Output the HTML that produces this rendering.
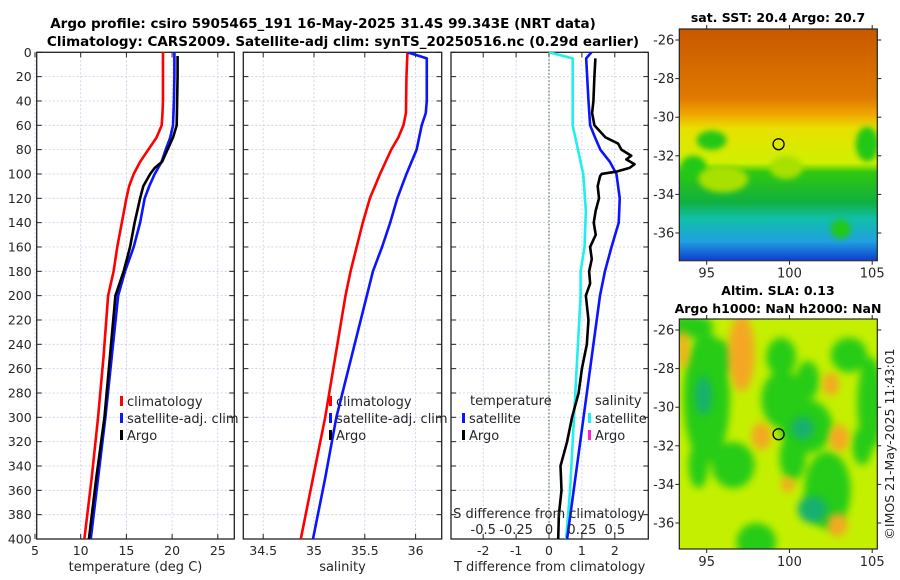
<!DOCTYPE html>
<html><head><meta charset="utf-8"><style>
body{margin:0;background:#fff;}
svg{display:block;font-family:"DejaVu Sans","Liberation Sans",sans-serif;}
</style></head><body>
<svg id="fig" width="900" height="580" viewBox="0 0 900 580">
<defs>
<filter id="blur6" x="-50%" y="-50%" width="200%" height="200%"><feGaussianBlur stdDeviation="4"/></filter>
<filter id="blur3" x="-50%" y="-50%" width="200%" height="200%"><feGaussianBlur stdDeviation="3"/></filter>
<linearGradient id="sstgrad" x1="0" y1="0" x2="0" y2="1">
<stop offset="0" stop-color="#c85800"/><stop offset="0.3" stop-color="#e07a00"/>
<stop offset="0.37" stop-color="#f0a800"/><stop offset="0.43" stop-color="#e8e000"/>
<stop offset="0.58" stop-color="#d0f000"/><stop offset="0.62" stop-color="#30c810"/>
<stop offset="0.75" stop-color="#10b040"/><stop offset="0.82" stop-color="#10c0a8"/>
<stop offset="0.92" stop-color="#20a0e0"/><stop offset="1" stop-color="#1040d0"/>
</linearGradient>
<clipPath id="clipm1"><rect x="679" y="29" width="198" height="231"/></clipPath>
<clipPath id="clipm2"><rect x="679" y="319" width="198" height="230"/></clipPath>
<clipPath id="clipp1"><rect x="37" y="52" width="197" height="487"/></clipPath>
<clipPath id="clipp2"><rect x="243" y="52" width="198" height="487"/></clipPath>
<clipPath id="clipp3"><rect x="451" y="52" width="197" height="487"/></clipPath>
</defs>
<text x="323" y="28" text-anchor="middle" font-size="13.5" font-weight="bold">Argo profile: csiro 5905465_191 16-May-2025 31.4S 99.343E (NRT data)</text>
<text x="343" y="46" text-anchor="middle" font-size="13.5" font-weight="bold">Climatology: CARS2009. Satellite-adj clim: synTS_20250516.nc (0.29d earlier)</text>
<g id="g1"></g>
<g id="g2"></g>
<g id="g3"></g>
<g id="m1"></g>
<g id="m2"></g>
<text x="778" y="22" text-anchor="middle" font-size="12.5" font-weight="bold">sat. SST: 20.4 Argo: 20.7</text>
<text x="778" y="295" text-anchor="middle" font-size="12.5" font-weight="bold">Altim. SLA: 0.13</text>
<text x="778" y="313" text-anchor="middle" font-size="12.5" font-weight="bold">Argo h1000: NaN h2000: NaN</text>
<text transform="translate(894,444) rotate(-90)" text-anchor="middle" font-size="12.5" fill="#222">©IMOS 21-May-2025 11:43:01</text>
</svg>
<script>
// ---- data ----
const depthTicks = [0,20,40,60,80,100,120,140,160,180,200,220,240,260,280,300,320,340,360,380,400];
const tempTicks = [5,10,15,20,25];
const salTicks = [34.5,35,35.5,36];
const tdiffTicks = [-2,-1,0,1,2];
const sdiffTickLabels = ["-0.5","-0.25","0","0.25","0.5"];
const sdiffTicks = [-0.5,-0.25,0,0.25,0.5];

const tClimDepth = [0,20,40,50,60,70,80,90,100,110,120,140,160,180,200,250,300,350,400];
const tClim =      [19.0,19.0,19.0,18.95,18.86,18.3,17.4,16.5,15.8,15.3,15.0,14.5,14.0,13.6,13.0,12.5,11.9,11.2,10.4];
const tSatDepth =  [0,20,40,60,70,80,90,100,110,120,140,160,180,200,250,300,350,400];
const tSat =       [20.25,20.25,20.2,20.1,19.8,19.3,18.85,18.1,17.5,17.0,16.5,15.8,14.85,14.1,13.4,12.7,11.9,11.1];
const tArgoDepth = [3,20,40,60,70,80,90,95,100,110,120,140,160,180,200,250,300,350,400];
const tArgo =      [20.6,20.6,20.55,20.5,20.1,19.5,18.9,18.1,17.6,16.85,16.5,15.9,15.4,14.7,13.8,13.2,12.6,11.7,10.9];

const sClimDepth = [0,20,50,60,70,80,100,120,140,160,180,200,250,300,350,400];
const sClim =      [35.92,35.91,35.905,35.88,35.83,35.76,35.65,35.55,35.48,35.42,35.36,35.31,35.21,35.11,34.99,34.87];
const sSatDepth =  [0,5,40,50,60,80,100,120,140,160,180,200,250,300,350,400];
const sSat =       [35.92,36.11,36.11,36.1,36.06,36.01,35.91,35.82,35.75,35.67,35.58,35.52,35.37,35.22,35.11,34.99];

const dTSatDepth = [0,5,40,60,70,80,90,100,120,140,160,180,200,240,280,300,340,400];
const dTSat =      [1.29,1.13,1.2,1.25,1.4,1.56,1.85,2.05,2.15,2.12,1.9,1.7,1.55,1.35,1.15,1.05,0.85,0.55];
const dTArgoDepth = [5,20,40,50,60,70,75,80,85,88,92,95,98,100,102,110,120,130,140,150,160,170,180,190,200,220,240,260,280,300,320,340,360,380,400];
const dTArgo =      [1.41,1.38,1.35,1.31,1.38,1.72,2.1,2.2,2.5,2.35,2.6,2.45,2.06,1.6,1.55,1.48,1.52,1.42,1.36,1.42,1.25,1.3,1.22,1.25,1.12,1.2,1.15,1.0,0.9,0.7,0.55,0.35,0.38,0.3,0.28];
const dSSatDepth = [0,5,40,60,70,80,100,130,160,180,200,240,300,360,400];
const dSSat =      [0.0,0.18,0.18,0.18,0.2,0.22,0.26,0.28,0.27,0.24,0.24,0.22,0.19,0.16,0.13];

const lonTicks = [95,100,105];
const latTicks = [-26,-28,-30,-32,-34,-36];
const argoLon = 99.343, argoLat = -31.4;
const slaGreenBlobs = [[95,-29.5,1.4,3.4],[96.6,-33,1.3,1.2],[98,-37,1.2,1],[99.6,-29.6,1.3,1.5],[101,-31,1.6,1.4],[99.5,-27.4,0.9,1],[101.1,-28.6,0.7,1],[102.3,-34.3,1.4,2],[103.6,-27.3,1.1,0.9],[104.9,-29.8,0.8,2.4],[94,-25.8,1.4,0.6],[100.2,-32.6,0.8,1.2],[95.8,-27.5,0.8,1],[104.4,-32,0.6,1],[94.5,-33,0.6,1.2]];
const slaTealBlobs = [[101.4,-35.3,0.9,0.7],[100.8,-31.1,0.7,0.6],[94.8,-29.4,0.5,1]];
const slaOrangeBlobs = [[97.1,-27.2,0.8,2],[98.3,-31.5,0.6,0.7],[103,-31.6,0.6,0.7],[102.9,-36.1,0.6,0.6],[102.5,-28.8,0.5,0.6],[99.9,-34,0.4,0.4],[93.6,-27,0.3,1]];
const sstGreenBlobs = [[95.3,-31.2,0.9,0.5],[94.2,-32.6,0.8,0.6],[104.7,-31.4,0.7,0.9],[103.1,-35.8,0.6,0.5]];
const sstYellowBlobs = [[96,-33.2,1.5,0.7],[99.8,-32.6,1.0,0.6]];

const NS="http://www.w3.org/2000/svg";
function mk(parent,tag,attrs){const e=document.createElementNS(NS,tag);for(const k in attrs)e.setAttribute(k,attrs[k]);parent.appendChild(e);return e;}
function txt(parent,x,y,s,attrs){const e=mk(parent,'text',Object.assign({x:x,y:y,'font-size':12.5,fill:'#262626'},attrs||{}));e.textContent=s;return e;}

const PT=52.3, PB=539;
function yD(d){return PT+(d/400)*(PB-PT);}

function panel(g,L,R,xfn,xticks,xlabels,ylabels,xtitle){
  depthTicks.forEach(d=>{
    const l=mk(g,'line',{x1:L,x2:R,y1:yD(d),y2:yD(d),stroke:'#c8cbe8','stroke-width':0.8,'stroke-dasharray':'2,2'});
    
    
  });
  xticks.forEach(v=>{
    const l=mk(g,'line',{x1:xfn(v),x2:xfn(v),y1:PT,y2:PB,stroke:'#c8cbe8','stroke-width':0.8,'stroke-dasharray':'2,2'});
    
    
  });
  const f=mk(g,'rect',{x:L,y:PT,width:R-L,height:PB-PT,fill:'none',stroke:'#222','stroke-width':1.3});
  
  
  depthTicks.forEach(d=>{
    mk(g,'line',{x1:L,x2:L+5,y1:yD(d),y2:yD(d),stroke:'#222','stroke-width':1});
    mk(g,'line',{x1:R-5,x2:R,y1:yD(d),y2:yD(d),stroke:'#222','stroke-width':1});
    if(ylabels){const t=txt(g,L-5,yD(d)+4.5,String(d),{'text-anchor':'end'});
      
      }
  });
  xticks.forEach((v,i)=>{
    mk(g,'line',{x1:xfn(v),x2:xfn(v),y1:PB-5,y2:PB,stroke:'#222','stroke-width':1});
    mk(g,'line',{x1:xfn(v),x2:xfn(v),y1:PT,y2:PT+5,stroke:'#222','stroke-width':1});
    const t=txt(g,xfn(v),555,xlabels[i],{'text-anchor':'middle'});
    
    
  });
  const t=txt(g,(L+R)/2,571,xtitle,{'text-anchor':'middle','font-size':13});
  
  
}
function line(g,clip,xs,ds,xfn,color,name){
  const pts=xs.map((v,i)=>xfn(v).toFixed(2)+','+yD(ds[i]).toFixed(2)).join(' ');
  const p=mk(g,'polyline',{points:pts,fill:'none',stroke:color,'stroke-width':2.6,'stroke-linejoin':'round','clip-path':'url(#'+clip+')'});
  
  
}
function legendEntry(g,x,y,color,label,name){
  mk(g,'rect',{x:x,y:y-9,width:3,height:10,fill:color});
  const t=txt(g,x+7,y+1,label,{'font-size':13});
  
  
}

const g1=document.getElementById('g1');
const xT=v=>35+(v-5)*9.14;
panel(g1,36.7,234.3,xT,tempTicks,tempTicks.map(String),true,'temperature (deg C)');
line(g1,'clipp1',tClim,tClimDepth,xT,'#ff0000','temp-climatology-line');
line(g1,'clipp1',tSat,tSatDepth,xT,'#0a14ff','temp-satellite-line');
line(g1,'clipp1',tArgo,tArgoDepth,xT,'#000','temp-argo-line');
legendEntry(g1,120,405,'#ff0000','climatology','legend-climatology');
legendEntry(g1,120,422,'#0a14ff','satellite-adj. clim','legend-satellite');
legendEntry(g1,120,439,'#000','Argo','legend-argo');

const g2=document.getElementById('g2');
const xS=v=>314+(v-35)*101.6;
panel(g2,243.3,441.7,xS,salTicks,salTicks.map(String),false,'salinity');
line(g2,'clipp2',sClim,sClimDepth,xS,'#ff0000','sal-climatology-line');
line(g2,'clipp2',sSat,sSatDepth,xS,'#0a14ff','sal-satellite-line');
legendEntry(g2,329,405,'#ff0000','climatology','legend-climatology-sal');
legendEntry(g2,329,422,'#0a14ff','satellite-adj. clim','legend-satellite-sal');
legendEntry(g2,329,439,'#000','Argo','legend-argo-sal');

const g3=document.getElementById('g3');
const xD=v=>549+v*32.9;
const xSD=v=>549+v*4*32.9;
panel(g3,451,648.3,xD,tdiffTicks,tdiffTicks.map(String),false,'T difference from climatology');
const zl=mk(g3,'line',{x1:xD(0),x2:xD(0),y1:PT,y2:PB,stroke:'#3a5a2a','stroke-width':1,'stroke-dasharray':'1.5,2'});


line(g3,'clipp3',dSSat,dSSatDepth,xSD,'#22eeee','sdiff-satellite-line');
line(g3,'clipp3',dTSat,dTSatDepth,xD,'#0a14ff','tdiff-satellite-line');
line(g3,'clipp3',dTArgo,dTArgoDepth,xD,'#000','tdiff-argo-line');
let t=txt(g3,549,518,'S difference from climatology',{'text-anchor':'middle','font-size':13});


sdiffTicks.forEach((v,i)=>{const e=txt(g3,xSD(v),534,sdiffTickLabels[i],{'text-anchor':'middle','font-size':13});
  
  });
t=txt(g3,470,405,'temperature',{'font-size':13});


legendEntry(g3,462,422,'#0a14ff','satellite','legend-t-satellite');
legendEntry(g3,462,439,'#000','Argo','legend-t-argo');
t=txt(g3,595,405,'salinity',{'font-size':13});


legendEntry(g3,588,422,'#22eeee','satellite','legend-s-satellite');
legendEntry(g3,588,439,'#ff22cc','Argo','legend-s-argo');

function mapAxes(g,L,R,T,B,latY){
  const lonX=v=>706.7+(v-95)*16.55;
  const f=mk(g,'rect',{x:L,y:T,width:R-L,height:B-T,fill:'none',stroke:'#222','stroke-width':1.2});
  
  
  lonTicks.forEach(v=>{
    mk(g,'line',{x1:lonX(v),x2:lonX(v),y1:B,y2:B+4,stroke:'#222'});
    mk(g,'line',{x1:lonX(v),x2:lonX(v),y1:T-4,y2:T,stroke:'#222'});
    const e=txt(g,lonX(v),B+17,String(v),{'text-anchor':'middle','font-size':13});
    
    
  });
  latTicks.forEach(v=>{
    mk(g,'line',{x1:L-4,x2:L,y1:latY(v),y2:latY(v),stroke:'#222'});
    mk(g,'line',{x1:R,x2:R+4,y1:latY(v),y2:latY(v),stroke:'#222'});
    const e=txt(g,L-5,latY(v)+4.5,String(v),{'text-anchor':'end','font-size':13});
    
    
  });
  const c=mk(g,'circle',{cx:lonX(argoLon),cy:latY(argoLat),r:5.5,fill:'none',stroke:'#000','stroke-width':1.3});
  
  
  return lonX;
}
function blobs(g,arr,lonX,latY,color,clip,filt){
  const gg=mk(g,'g',{'clip-path':'url(#'+clip+')'});
  const inner=mk(gg,'g',{filter:'url(#'+filt+')'});
  arr.forEach(b=>{
    const e=mk(inner,'ellipse',{cx:lonX(b[0]),cy:latY(b[1]),rx:b[2]*16.55,ry:b[3]*19.3,fill:color});
    
    
  });
}
const m1=document.getElementById('m1');
const lat1=v=>40+(-26-v)*19.3;
const bg1=mk(m1,'rect',{x:679,y:29,width:198,height:231,fill:'url(#sstgrad)'});


const lonX1=v=>706.7+(v-95)*16.55;
blobs(m1,sstGreenBlobs,lonX1,lat1,'#22c814','clipm1','blur3');
blobs(m1,sstYellowBlobs,lonX1,lat1,'#a8e000','clipm1','blur3');
mapAxes(m1,679.3,877.3,29,260.7,lat1);

const m2=document.getElementById('m2');
const lat2=v=>330+(-26-v)*19.3;
const bg2=mk(m2,'rect',{x:679,y:319,width:198,height:230,fill:'#c4f000'});


blobs(m2,slaGreenBlobs,lonX1,lat2,'#28cc18','clipm2','blur6');
blobs(m2,slaTealBlobs,lonX1,lat2,'#18b070','clipm2','blur6');
blobs(m2,slaOrangeBlobs,lonX1,lat2,'#f4a820','clipm2','blur6');
mapAxes(m2,679.3,877.3,319,549,lat2);
</script>
</body></html>
